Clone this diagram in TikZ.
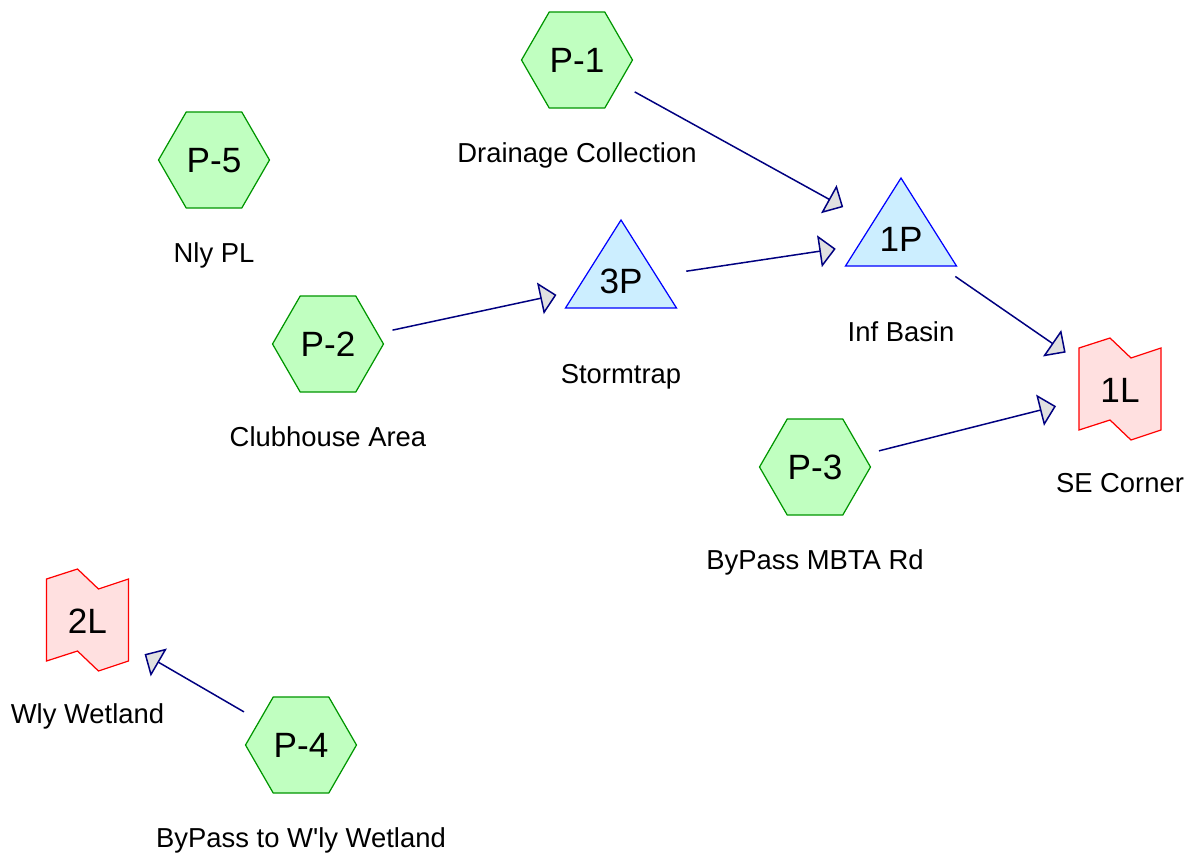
\documentclass[tikz,border=0pt]{standalone}
\usepackage{fontspec}
\setmainfont{Liberation Sans}
\usetikzlibrary{
    arrows.meta,
    shapes.geometric,
    backgrounds,
    positioning
}
\definecolor{subgreen}{RGB}{0,150,0}
\definecolor{subfill}{RGB}{192,255,192}
\definecolor{pondblue}{RGB}{0,0,255}
\definecolor{pondfill}{RGB}{204,238,255}
\definecolor{linkred}{RGB}{255,0,0}
\definecolor{linkfill}{RGB}{255,224,224}
\definecolor{reachnavy}{RGB}{0,0,128}
\definecolor{tipgray}{RGB}{224,224,224}

\begin{document}
\begin{tikzpicture}[x=0.02cm, y=-0.02cm,
    subcat/.style={regular polygon, regular polygon sides=6, minimum size=2.22cm, inner sep=0pt,
        draw=subgreen, fill=subfill, line width=0.7pt,
        font=\fontsize{20}{20}\selectfont, text height=14.3pt, text depth=0pt},
    inner/.style={inner sep=0pt, font=\fontsize{20}{20}\selectfont, text height=14.3pt, text depth=0pt},
    pond/.style={draw=pondblue, fill=pondfill, line width=0.7pt},
    link/.style={draw=linkred, fill=linkfill, line width=0.7pt},
    caption/.style={inner sep=0pt, font=\fontsize{15.6}{16}\selectfont, text height=11.2pt, text depth=0pt},
    flow/.style={draw=reachnavy, line width=0.85pt, shorten <=1.32cm, shorten >=1.32cm,
        -{Triangle[length=0.33cm, width=0.64cm, fill=tipgray]}}
]
                                \useasboundingbox (0,0) rectangle (1191,867);
                                % subcatchments
                                \node[subcat] (p1) at (577,60) {P-1};
                                \node[subcat] (p5) at (214,160) {P-5};
                                \node[subcat] (p2) at (328,344) {P-2};
                                \node[subcat] (p3) at (815,467) {P-3};
                                \node[subcat] (p4) at (301,745) {P-4};
                                % ponds and links
                                \node[inner] (t1) at (901,239) {1P};
                                \node[inner] (t3) at (621,281) {3P};
                                \node[inner] (l1) at (1120,390) {1L};
                                \node[inner] (l2) at (87.5,621) {2L};
                                \begin{scope}[on background layer]
                                    \foreach \n in {t1,t3}
                                        \draw[pond, shift={(\n.center)}] (0,-61) -- (55.5,27) -- (-55.5,27) -- cycle;
                                    \foreach \n in {l1,l2}
                                        \draw[link, shift={(\n.center)}] (-41,-42) -- (-10,-52) -- (11,-32) -- (41,-42)
                                        -- (41,40) -- (11,50) -- (-10,30) -- (-41,40) -- cycle;
                                \end{scope}
                                % captions
                                \node[caption] (p1cap) at ([yshift=-1.86cm]p1.center) {Drainage Collection};
                                \node[caption] (p5cap) at ([yshift=-1.86cm]p5.center) {Nly PL};
                                \node[caption] (p2cap) at ([yshift=-1.86cm]p2.center) {Clubhouse Area};
                                \node[caption] (p3cap) at ([yshift=-1.86cm]p3.center) {ByPass MBTA Rd};
                                \node[caption] (p4cap) at ([yshift=-1.86cm]p4.center) {ByPass to W\textquotesingle ly Wetland};
                                \node[caption] (t1cap) at ([yshift=-1.86cm]t1.center) {Inf Basin};
                                \node[caption] (t3cap) at ([yshift=-1.86cm]t3.center) {Stormtrap};
                                \node[caption] (l1cap) at ([yshift=-1.86cm]l1.center) {SE Corner};
                                \node[caption] (l2cap) at ([yshift=-1.86cm]l2.center) {Wly Wetland};
                                % routing
                                \draw[flow] (p1.center) -- (t1.center);
                                \draw[flow] (t3.center) -- (t1.center);
                                \draw[flow] (p2.center) -- (t3.center);
                                \draw[flow] (t1.center) -- (l1.center);
                                \draw[flow] (p3.center) -- (l1.center);
                                \draw[flow] (p4.center) -- (l2.center);
                            \end{tikzpicture}
\end{document}
